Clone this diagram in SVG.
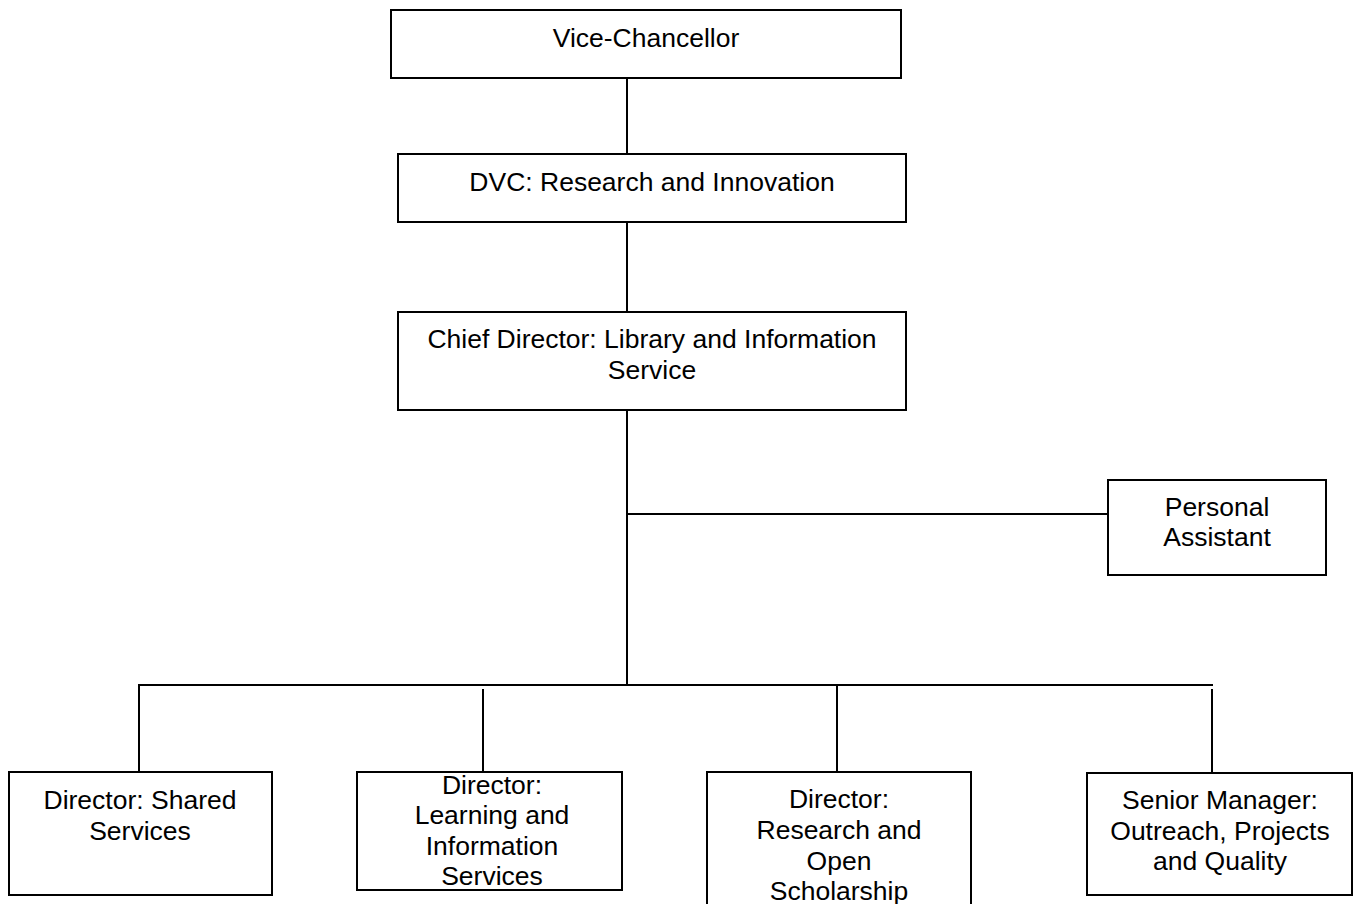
<svg xmlns="http://www.w3.org/2000/svg" width="1357" height="904" viewBox="0 0 1357 904">
<style>
.box{fill:#fff;stroke:#000;stroke-width:2}
.ln{stroke:#000;stroke-width:2;fill:none}
text{font-family:"Liberation Sans",Arial,sans-serif;font-size:26.5px;fill:#000;text-anchor:middle}
</style>
<rect width="1357" height="904" fill="#fff"/>
<g id="connectors">
<line class="ln" x1="627" y1="78" x2="627" y2="154"/>
<line class="ln" x1="627" y1="222" x2="627" y2="312"/>
<line class="ln" x1="627" y1="410" x2="627" y2="685"/>
<line class="ln" x1="627" y1="514" x2="1108" y2="514"/>
<line class="ln" x1="138" y1="685" x2="1213" y2="685"/>
<line class="ln" x1="139" y1="685" x2="139" y2="772"/>
<line class="ln" x1="483" y1="689" x2="483" y2="772"/>
<line class="ln" x1="837" y1="685" x2="837" y2="772"/>
<line class="ln" x1="1212" y1="689" x2="1212" y2="773"/>
</g>
<g id="vc">
<rect class="box" x="391" y="10" width="510" height="68"/>
<text x="646" y="47">Vice-Chancellor</text>
</g>
<g id="dvc">
<rect class="box" x="398" y="154" width="508" height="68"/>
<text x="652" y="191">DVC: Research and Innovation</text>
</g>
<g id="chief">
<rect class="box" x="398" y="312" width="508" height="98"/>
<text x="652" y="348">Chief Director: Library and Information</text>
<text x="652" y="379">Service</text>
</g>
<g id="pa">
<rect class="box" x="1108" y="480" width="218" height="95"/>
<text x="1217" y="516">Personal</text>
<text x="1217" y="546">Assistant</text>
</g>
<g id="shared">
<rect class="box" x="9" y="772" width="263" height="123"/>
<text x="140" y="809">Director: Shared</text>
<text x="140" y="840">Services</text>
</g>
<g id="learning">
<rect class="box" x="357" y="772" width="265" height="118"/>
<text x="492" y="794">Director:</text>
<text x="492" y="824">Learning and</text>
<text x="492" y="855">Information</text>
<text x="492" y="885">Services</text>
</g>
<g id="research">
<rect class="box" x="707" y="772" width="264" height="140"/>
<text x="839" y="808">Director:</text>
<text x="839" y="839">Research and</text>
<text x="839" y="870">Open</text>
<text x="839" y="900">Scholarship</text>
</g>
<g id="outreach">
<rect class="box" x="1087" y="773" width="265" height="122"/>
<text x="1220" y="809">Senior Manager:</text>
<text x="1220" y="840">Outreach, Projects</text>
<text x="1220" y="870">and Quality</text>
</g>
</svg>
